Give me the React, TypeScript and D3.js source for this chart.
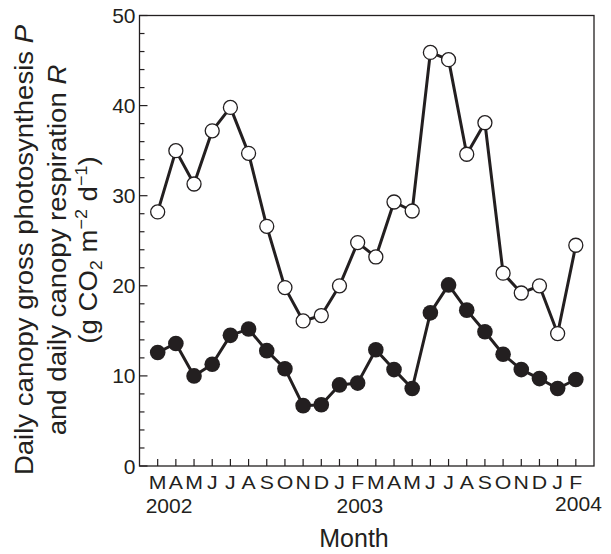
import React from "react";
import * as d3 from "d3";

// Month labels, March 2002 to February 2004
const months = ["M", "A", "M", "J", "J", "A", "S", "O", "N", "D", "J", "F",
  "M", "A", "M", "J", "J", "A", "S", "O", "N", "D", "J", "F"];

// Daily canopy gross photosynthesis P (open circles)
const photosynthesis = [28.2, 35.0, 31.3, 37.2, 39.8, 34.7, 26.6, 19.8, 16.1, 16.7, 20.0, 24.8,
  23.2, 29.3, 28.3, 45.9, 45.1, 34.6, 38.1, 21.4, 19.2, 20.0, 14.7, 24.5];

// Daily canopy respiration R (filled circles)
const respiration = [12.6, 13.6, 10.0, 11.3, 14.5, 15.2, 12.8, 10.8, 6.7, 6.8, 9.0, 9.2,
  12.9, 10.7, 8.6, 17.0, 20.1, 17.3, 14.9, 12.4, 10.7, 9.7, 8.6, 9.6];

const yMajorTicks = [0, 10, 20, 30, 40, 50];
const yMinorTicks = d3.range(0, 51, 2).filter((v) => v % 10 !== 0);

const years = ["2002", "2003", "2004"];

const INK = "#231f20";
const FONT = "'Liberation Sans', Arial, Helvetica, sans-serif";

export default function App() {
  const W = 611;
  const H = 554;
  const x = d3.scaleLinear().domain([-1, 24]).range([139.5, 594]);
  const y = d3.scaleLinear().domain([0, 50]).range([466, 15.5]);

  const line = d3
    .line<number>()
    .x((_, i) => x(i))
    .y((d) => y(d));

  const left = x(-1);
  const right = x(24);
  const top = y(50);
  const bottom = y(0);

  return (
    <svg
      width={W}
      height={H}
      style={{ position: "absolute", left: 0, top: 0, background: "#fff" }}
      fontFamily={FONT}
    >
      {/* frame */}
      <rect
        x={left}
        y={top}
        width={right - left}
        height={bottom - top}
        fill="none"
        stroke={INK}
        strokeWidth={1.3}
      />

      {/* y ticks */}
      {yMajorTicks.map((v) => (
        <g key={"ym" + v}>
          <line x1={left} x2={left + 8} y1={y(v)} y2={y(v)} stroke={INK} strokeWidth={1.2} />
          <text
            x={left - 4}
            y={y(v)}
            dy="0.36em"
            textAnchor="end"
            fontSize={21}
            fill={INK}
          >
            {v}
          </text>
        </g>
      ))}
      {yMinorTicks.map((v) => (
        <line key={"yn" + v} x1={left} x2={left + 5} y1={y(v)} y2={y(v)} stroke={INK} strokeWidth={1.2} />
      ))}

      {/* x ticks and month letters */}
      {months.map((m, i) => (
        <g key={"m" + i}>
          <line x1={x(i)} x2={x(i)} y1={bottom} y2={bottom - 7} stroke={INK} strokeWidth={1.2} />
          <text
            transform={`translate(${x(i)},488.5) scale(1.15,1)`}
            textAnchor="middle"
            fontSize={18.5}
            fill={INK}
          >
            {m}
          </text>
        </g>
      ))}

      {/* years */}
      <text x={x(0) - 12} y={513} fontSize={21} fill={INK}>{years[0]}</text>
      <text x={x(10) - 3} y={513} fontSize={21} fill={INK}>{years[1]}</text>
      <text x={x(23) + 26} y={511} fontSize={21} textAnchor="end" fill={INK}>{years[2]}</text>

      {/* x axis title */}
      <text x={354} y={547} textAnchor="middle" fontSize={25} fill={INK}>Month</text>

      {/* y axis title */}
      <g transform={`translate(0, 250) rotate(-90) scale(1.06,1)`} fill={INK} fontSize={26}>
        <text x={0} y={33} textAnchor="middle">
          Daily canopy gross photosynthesis <tspan fontStyle="italic">P</tspan>
        </text>
        <text x={0} y={66.5} textAnchor="middle">
          and daily canopy respiration <tspan fontStyle="italic">R</tspan>
        </text>
        <text x={0} y={97} textAnchor="middle">
          (g CO
          <tspan fontSize={17} dy={5}>2</tspan>
          <tspan dy={-5}> m</tspan>
          <tspan fontSize={17} dy={-10}>−2</tspan>
          <tspan dy={10}> d</tspan>
          <tspan fontSize={17} dy={-10}>−1</tspan>
          <tspan dy={10}>)</tspan>
        </text>
      </g>

      {/* series lines */}
      <path d={line(photosynthesis) ?? ""} fill="none" stroke={INK} strokeWidth={3} strokeLinejoin="round" />
      <path d={line(respiration) ?? ""} fill="none" stroke={INK} strokeWidth={3} strokeLinejoin="round" />

      {/* markers */}
      {photosynthesis.map((v, i) => (
        <circle key={"p" + i} cx={x(i)} cy={y(v)} r={7} fill="#fff" stroke={INK} strokeWidth={1.3} />
      ))}
      {respiration.map((v, i) => (
        <circle key={"r" + i} cx={x(i)} cy={y(v)} r={7.8} fill={INK} />
      ))}
    </svg>
  );
}
